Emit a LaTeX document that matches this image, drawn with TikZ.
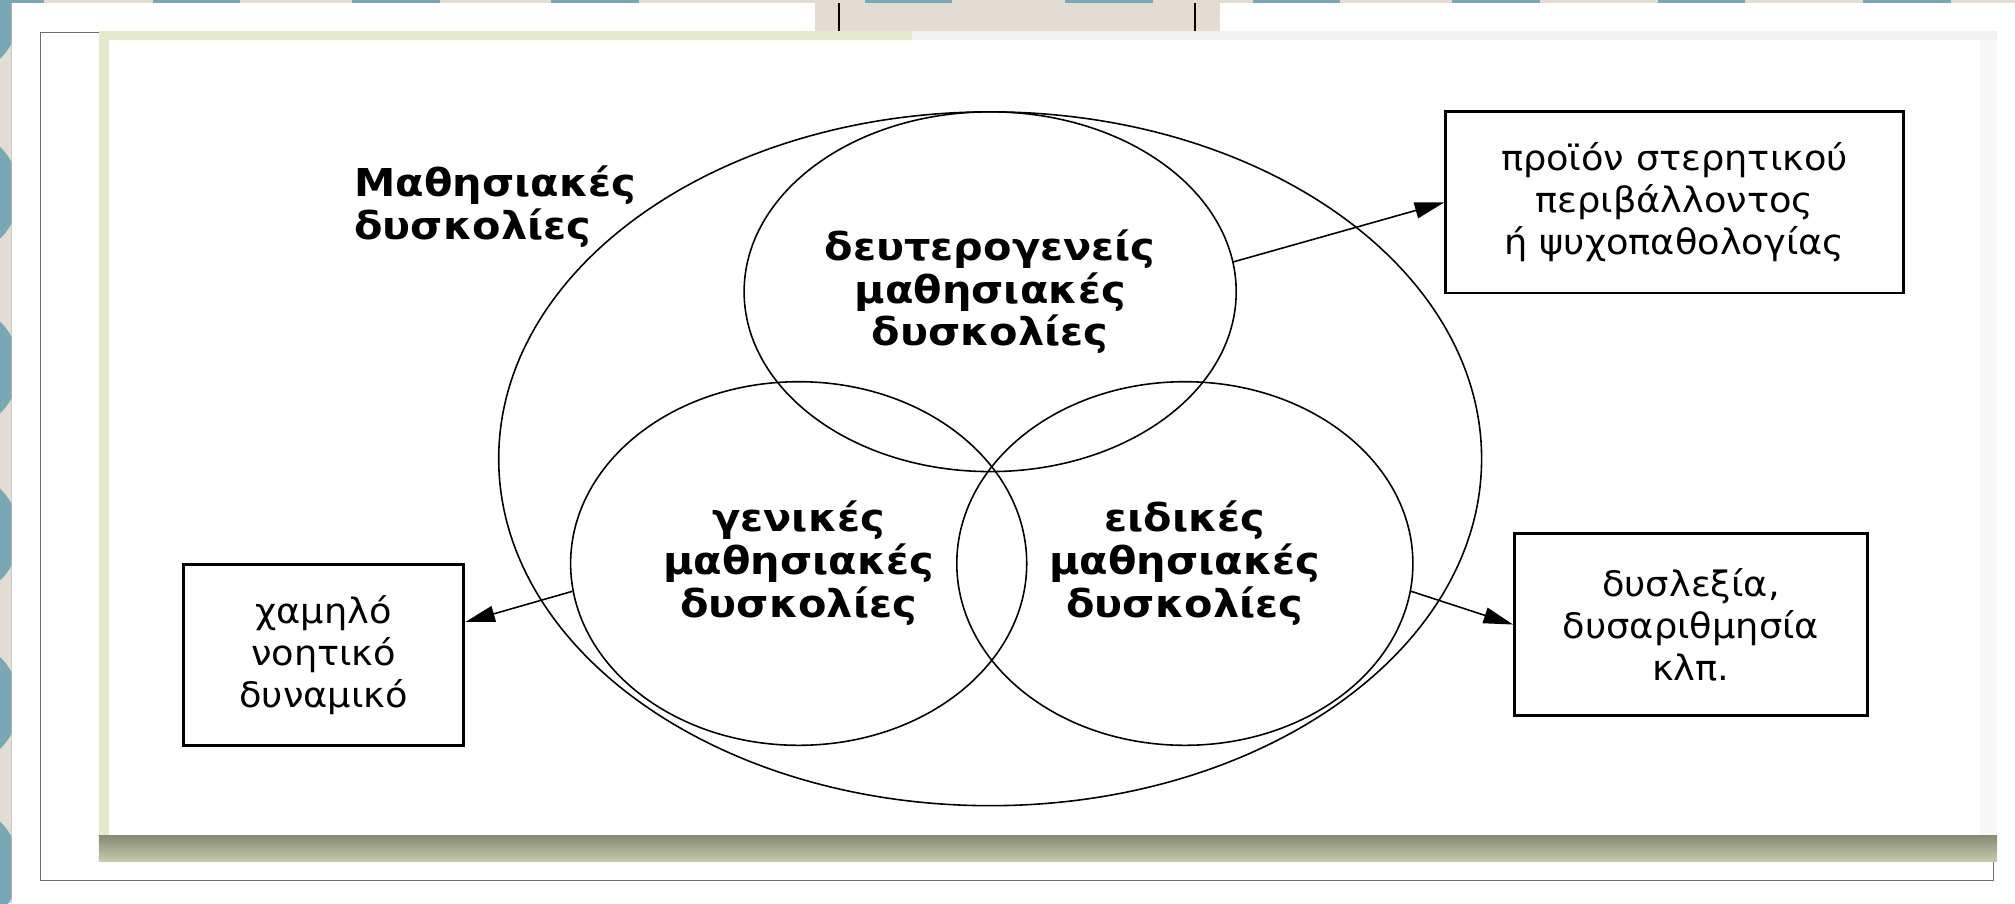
\documentclass[tikz,border=0pt]{standalone}
\usepackage{fontspec}
\setmainfont{DejaVu Sans}
\newfontfamily\circlefont[FakeStretch=1.08]{DejaVu Sans Bold}
\newfontfamily\boxfont[FakeStretch=1.05]{DejaVu Sans}
\usepackage{xcolor}
\usetikzlibrary{calc, arrows.meta, shapes.geometric}

\definecolor{strip beige}{HTML}{E2DCD2}
\definecolor{strip blue}{HTML}{78A8B6}
\definecolor{panel green}{HTML}{E3EACB}
\definecolor{shadow top}{HTML}{878B76}
\definecolor{shadow bottom}{HTML}{C6C9A9}
\definecolor{frame gray}{HTML}{6E6E6E}

\tikzset{
	venn/.style = {draw, ellipse, line width = 0.7pt, inner sep = 0pt, align = center,
		font = \circlefont\fontsize{17}{19}\selectfont},
	result/.style = {draw, rectangle, line width = 1.3pt, inner sep = 0pt, align = center,
		font = \boxfont\fontsize{15.5}{18.6}\selectfont},
	leads/.style = {-{Triangle[length = 4.6mm, width = 2.5mm]}, line width = 0.7pt},
}

\begin{document}
\begin{tikzpicture}[x = 0.02cm, y = -0.02cm]
		\useasboundingbox (0,0) rectangle (1568,703);
		
		% slide behind the figure
		\fill [white] (0,0) rectangle (1568,703);
		\fill [strip beige] (0,0) rectangle (9.3,703);
		\begin{scope}
			\clip (0,0) rectangle (9.3,703);
			\foreach \y in {10,150,286,416,547,675}
				\fill [strip blue] (-30,\y) ellipse [x radius = 45, y radius = 48];
		\end{scope}
		\fill [black!25, opacity = 0.6] (8.2,0) rectangle (9.3,703);
		\fill [strip beige] (0,0) rectangle (1568,2.5);
		\foreach \x in {-34,119,274,429,673,829,975,1130,1290,1450}
			\fill [strip blue] (\x,0) rectangle ++(68,2.5);
		
		\fill [strip beige] (634,2.5) rectangle (949,24);
		\draw [line width = 0.6pt] (653,2.5) -- (653,24);
		\draw [line width = 0.6pt] (930,2.5) -- (930,24);
		
		\draw [frame gray, line width = 0.6pt] (31.7,25.4) rectangle (1551,685);
		
		% picture panel and its shadow
		\fill [white] (77,24) rectangle (1554,650);
		\fill [panel green] (77,24) rectangle (85,650);
		\fill [panel green] (77,24) rectangle (710,31);
		\fill [black!5] (710,24) rectangle (1554,31);
		\fill [black!3] (1541,31) rectangle (1554,650);
		\shade [top color = shadow top, bottom color = shadow bottom] (77,650) rectangle (1554,670);
		
		% sets
		\def\bigW{15.3cm};
		\def\bigH{10.8cm};
		\def\topW{7.66cm};
		\def\topH{5.6cm};
		\def\lowW{7.1cm};
		\def\lowH{5.66cm};
		
		\coordinate (venn centre) at (770.5,357);
		
		\node [venn, minimum width = \bigW, minimum height = \bigH] (all) at (venn centre) {};
		\node [venn, minimum width = \topW, minimum height = \topH] (secondary)
			at ($ (venn centre) + (0,-130) $) {δευτερογενείς\\μαθησιακές\\δυσκολίες};
		\node [venn, minimum width = \lowW, minimum height = \lowH] (general)
			at ($ (venn centre) + (-149,81.5) $) {γενικές\\μαθησιακές\\δυσκολίες};
		\node [venn, minimum width = \lowW, minimum height = \lowH] (specific)
			at ($ (venn centre) + (151.5,81.5) $) {ειδικές\\μαθησιακές\\δυσκολίες};
		
		\node [anchor = west, align = left, inner sep = 0pt, font = \circlefont\fontsize{17}{19}\selectfont]
			(title) at (275.5,161) {Μαθησιακές\\δυσκολίες};
		
		% outcomes
		\node [result, minimum width = 7.12cm, minimum height = 2.82cm] (deprivation)
			at (1303,157.5) {προϊόν στερητικού\\περιβάλλοντος\\ή ψυχοπαθολογίας};
		\node [result, minimum width = 4.37cm, minimum height = 2.82cm] (low iq)
			at (251.75,509.5) {χαμηλό\\νοητικό\\δυναμικό};
		\node [result, minimum width = 5.49cm, minimum height = 2.84cm] (dyslexia)
			at (1315.8,486) {δυσλεξία,\\δυσαριθμησία\\κλπ.};
		
		\draw [leads] (secondary.7) -- (deprivation.west);
		\draw [leads] (general.187.5) -- (low iq.13);
		\draw [leads] (specific.-7.8) -- (dyslexia.west);
	\end{tikzpicture}
\end{document}
